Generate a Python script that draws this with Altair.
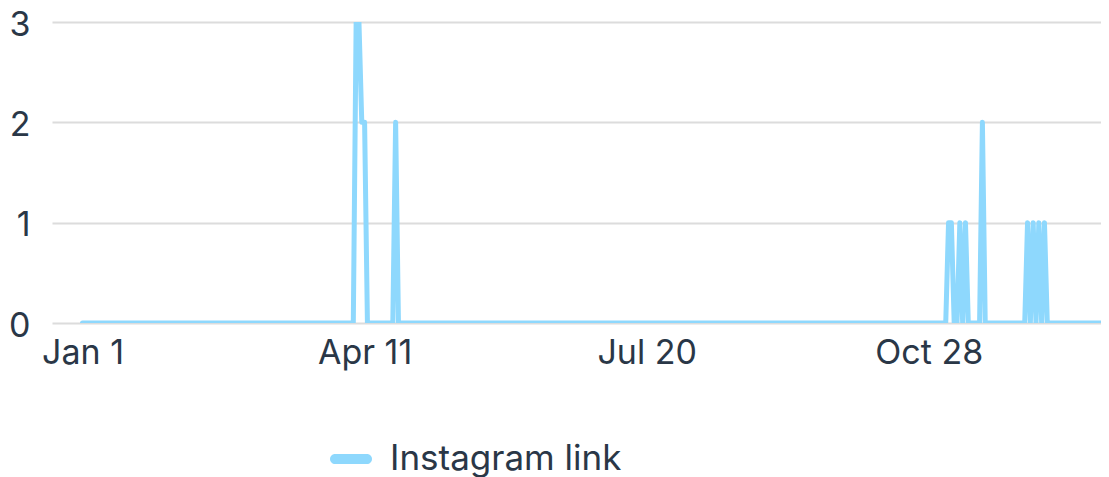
import altair as alt
import pandas as pd

# All days of the year (non-leap), zero unless listed below
start_date = "2023-01-01"
end_date = "2023-12-31"
spike_dates = ["2023-04-08", "2023-04-09", "2023-04-10", "2023-04-11", "2023-04-22",
               "2023-11-04", "2023-11-05", "2023-11-08", "2023-11-10", "2023-11-16",
               "2023-12-02", "2023-12-04", "2023-12-06", "2023-12-08"]
spike_values = [3, 3, 2, 2, 2,
                1, 1, 1, 1, 2,
                1, 1, 1, 1]
series_name = "Instagram link"
y_ticks = [0, 1, 2, 3]
x_tick_dates = ["2023-01-01", "2023-04-11", "2023-07-20", "2023-10-28"]

days = pd.date_range(start_date, end_date, freq="D").strftime("%Y-%m-%d").tolist()
lookup = dict(zip(spike_dates, spike_values))
df = pd.DataFrame({
    "date": days,
    "value": [lookup.get(d, 0) for d in days],
    "series": series_name,
})

TEXT = "#2a3747"
LINE = "#8ed8fd"
FONT = "Inter"

pill = ("M -0.76 -0.24 L 0.76 -0.24 A 0.24 0.24 0 0 1 0.76 0.24 "
        "L -0.76 0.24 A 0.24 0.24 0 0 1 -0.76 -0.24 Z")

x_values = [alt.DateTime(year=int(d[:4]), month=int(d[5:7]), date=int(d[8:]), utc=True)
            for d in x_tick_dates]

chart = alt.Chart(df).mark_line(
    strokeWidth=5, strokeJoin="round", strokeCap="round", clip=True
).encode(
    x=alt.X("date:T",
            scale=alt.Scale(type="utc",
                            domain=[alt.DateTime(year=2022, month=12, date=21, hours=4, minutes=34, utc=True),
                                    alt.DateTime(year=2023, month=12, date=28, hours=1, minutes=0, utc=True)]),
            axis=alt.Axis(title=None, values=x_values, format="%b %-d", grid=False,
                          domain=False, ticks=False, labelFontSize=34, labelFont=FONT,
                          labelColor=TEXT, labelPadding=13, labelFlush=False)),
    y=alt.Y("value:Q",
            scale=alt.Scale(domain=[0, 3], nice=False, zero=True),
            axis=alt.Axis(title=None, values=y_ticks, format="d", grid=True,
                          gridColor="#dcdcdc", gridWidth=2, domain=False, ticks=False,
                          labelFontSize=34, labelFont=FONT, labelColor=TEXT,
                          labelPadding=22, labelOffset=3)),
    color=alt.Color("series:N",
                    scale=alt.Scale(range=[LINE]),
                    legend=alt.Legend(title=None, orient="none", legendX=278, legendY=416,
                                      symbolType=pill, symbolSize=1764, symbolStrokeWidth=0,
                                      symbolFillColor=LINE, labelFontSize=35, labelFont=FONT,
                                      labelColor=TEXT, labelOffset=18, labelLimit=500)),
).properties(
    width=1049,
    height=301,
    autosize=alt.AutoSizeParams(type="none"),
    padding={"left": 44, "top": 14, "right": 0, "bottom": 154},
).configure_view(
    stroke=None
)

chart.save("out.html", embed_options={"renderer": "svg", "actions": False})
